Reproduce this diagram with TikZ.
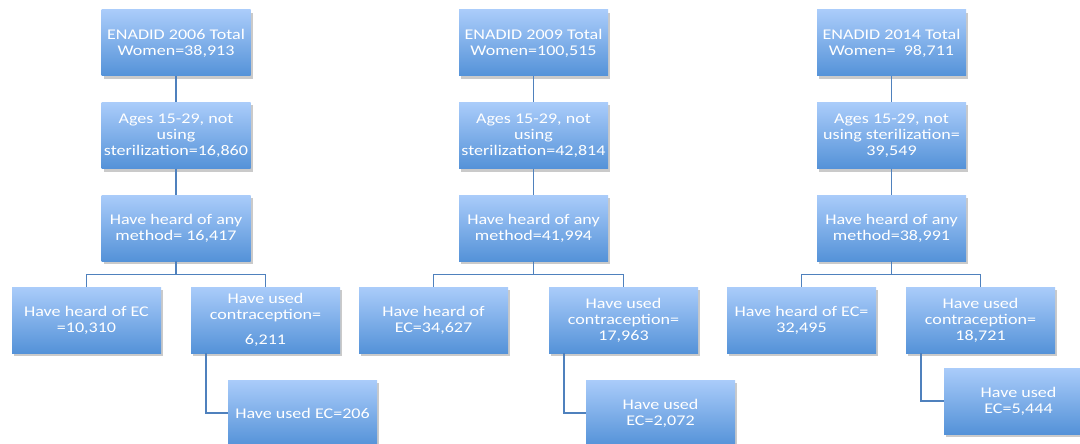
\documentclass[tikz,border=0pt]{standalone}
\usepackage{fontspec}
\setmainfont{Carlito}[FakeStretch=1.22]
\usetikzlibrary{shadows}
\definecolor{boxtop}{RGB}{170,204,250}
\definecolor{boxbot}{RGB}{84,146,216}
\definecolor{linkc}{RGB}{79,129,189}
\tikzset{
  box/.style={rectangle, minimum width=149pt, minimum height=66pt, inner sep=0pt,
    top color=boxtop, bottom color=boxbot, text=white, align=center,
    font=\fontsize{14.8pt}{16pt}\selectfont,
    drop shadow={shadow xshift=2pt, shadow yshift=-3pt, opacity=0.35, fill=black!60}},
  link/.style={draw=linkc, line width=1.4pt}
}
\begin{document}
\begin{tikzpicture}[x=1pt,y=-1pt]
\useasboundingbox (0,0) rectangle (1080,444);
% Group 2006
\node[box] (a1) at (176,43) {ENADID 2006 Total\\Women=38,913};
\node[box] (a2) at (176,135.5) {Ages 15-29, not\\using\\sterilization=16,860};
\node[box] (a3) at (176,228) {Have heard of any\\method= 16,417};
\node[box] (a4) at (86.5,320) {Have heard of EC\\=10,310};
\node[box] (a5) at (265.5,320) {Have used\\contraception=\\[9pt]6,211};
\node[box] (a6) at (302.5,413) {Have used EC=206};
% Group 2009
\node[box] (b1) at (533.5,43) {ENADID 2009 Total\\Women=100,515};
\node[box] (b2) at (533.5,135.5) {Ages 15-29, not\\using\\sterilization=42,814};
\node[box] (b3) at (533.5,228) {Have heard of any\\method=41,994};
\node[box] (b4) at (433.5,320) {Have heard of\\EC=34,627};
\node[box] (b5) at (623.5,320) {Have used\\contraception=\\17,963};
\node[box] (b6) at (660.5,413) {Have used\\EC=2,072};
% Group 2014
\node[box] (c1) at (891.5,43) {ENADID 2014 Total\\Women=\ \ 98,711};
\node[box] (c2) at (891.5,135.5) {Ages 15-29, not\\using sterilization=\\39,549};
\node[box] (c3) at (891.5,228) {Have heard of any\\method=38,991};
\node[box] (c4) at (801.5,320) {Have heard of EC=\\32,495};
\node[box] (c5) at (980.5,320) {Have used\\contraception=\\18,721};
\node[box] (c6) at (1018.5,401) {Have used\\EC=5,444};
% connectors
\draw[link] (a1.south) -- (a2.north);
\draw[link] (a2.south) -- (a3.north);
\draw[link] (a3.south) -- ++(0,13) -| (a4.north);
\draw[link] (a3.south) -- ++(0,13) -| (a5.north);
\draw[link] (a5.south -| 206,0) |- (a6.west);
\draw[link] (b1.south) -- (b2.north);
\draw[link] (b2.south) -- (b3.north);
\draw[link] (b3.south) -- ++(0,13) -| (b4.north);
\draw[link] (b3.south) -- ++(0,13) -| (b5.north);
\draw[link] (b5.south -| 564,0) |- (b6.west);
\draw[link] (c1.south) -- (c2.north);
\draw[link] (c2.south) -- (c3.north);
\draw[link] (c3.south) -- ++(0,13) -| (c4.north);
\draw[link] (c3.south) -- ++(0,13) -| (c5.north);
\draw[link] (c5.south -| 921,0) |- (c6.west);
\end{tikzpicture}
\end{document}
